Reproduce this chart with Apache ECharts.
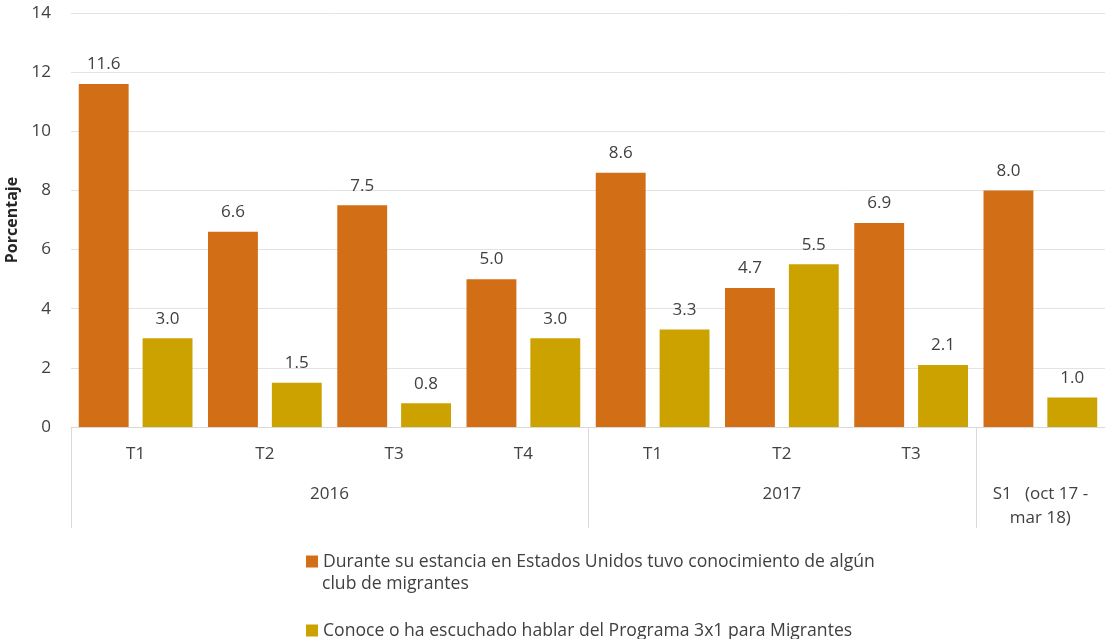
<!DOCTYPE html>
<html>
<head>
<meta charset="utf-8">
<script src="https://cdn.jsdelivr.net/npm/echarts@6/dist/echarts.min.js"></script>
<style>
  html, body { margin: 0; padding: 0; background: #fff; }
  #chart { width: 1105px; height: 639px; }
</style>
</head>
<body>
<div id="chart"></div>
<script>
// periodos (nivel 1) y grupos (nivel 2)
var periodos = ["T1", "T2", "T3", "T4", "T1", "T2", "T3", ""];
var grupos = [
  { name: "2016", from: 0, to: 4 },
  { name: "2017", from: 4, to: 7 },
  { name: "S1   (oct 17 -\nmar 18)", from: 7, to: 8 }
];
var serieClub = [11.6, 6.6, 7.5, 5.0, 8.6, 4.7, 6.9, 8.0];
var serie3x1 = [3.0, 1.5, 0.8, 3.0, 3.3, 5.5, 2.1, 1.0];
var nombreClub = "Durante su estancia en Estados Unidos tuvo conocimiento de algún\nclub de migrantes";
var nombre3x1 = "Conoce o ha escuchado hablar del Programa 3x1 para Migrantes";
var yTicks = [0, 2, 4, 6, 8, 10, 12, 14];

// eje de grupos: medias posiciones, 0..16
var mitades = [];
for (var i = 0; i <= periodos.length * 2; i++) mitades.push(i);
var etiquetaGrupo = {};
var limites = {};
grupos.forEach(function (g) {
  etiquetaGrupo[g.from + g.to] = g.name;
  limites[g.from * 2] = true;
  limites[g.to * 2] = true;
});

var fuente = "Open Sans";
var texto = "#404040";
var lineasClub = nombreClub.split("\n");

var leyendaBase = {
  orient: "vertical",
  left: 306,
  padding: 0,
  itemWidth: 12,
  itemHeight: 12,
  itemGap: 4,
  icon: "rect",
  textStyle: { fontFamily: fuente, fontSize: 17.6, color: texto, lineHeight: 23 }
};
var etiquetaBarra = {
  show: true,
  position: "top",
  distance: 11,
  color: texto,
  fontSize: 17,
  formatter: function (p) { return p.value.toFixed(1); }
};

var chart = echarts.init(document.getElementById("chart"));
var option = {
  textStyle: { fontFamily: fuente },
  grid: { left: 71, right: 0, top: 13, bottom: 212, outerBoundsMode: "none" },
  legend: [
    Object.assign({}, leyendaBase, {
      top: 550,
      data: [nombreClub],
      // el icono va con la primera linea; la segunda se pone aparte
      formatter: function () { return lineasClub[0]; }
    }),
    Object.assign({}, leyendaBase, { top: 619, data: [nombre3x1] })
  ],
  graphic: [
    {
      type: "text",
      left: 322,
      top: 575,
      style: {
        text: lineasClub[1],
        fontFamily: fuente,
        fontSize: 17.6,
        fill: texto
      }
    }
  ],
  xAxis: [
    {
      type: "category",
      data: periodos,
      axisLine: { lineStyle: { color: "#d9d9d9" } },
      axisTick: { show: false },
      axisLabel: { color: texto, fontSize: 17, margin: 19 }
    },
    {
      type: "category",
      position: "bottom",
      boundaryGap: false,
      data: mitades,
      axisLine: { show: false },
      axisTick: {
        show: true,
        length: 101,
        interval: function (idx) { return !!limites[idx]; },
        lineStyle: { color: "#d9d9d9" }
      },
      axisLabel: {
        interval: 0,
        margin: 55,
        color: texto,
        fontSize: 17,
        lineHeight: 24,
        verticalAlign: "top",
        formatter: function (v) { return etiquetaGrupo[v] || ""; }
      }
    }
  ],
  yAxis: {
    type: "value",
    min: yTicks[0],
    max: yTicks[yTicks.length - 1],
    interval: 2,
    name: "Porcentaje",
    nameLocation: "middle",
    nameGap: 44,
    nameTextStyle: { fontWeight: "bold", fontSize: 16, color: "#262626" },
    axisLine: { show: false },
    axisTick: { show: false },
    axisLabel: { color: texto, fontSize: 17, margin: 20 },
    splitLine: { lineStyle: { color: "#e3e3e3" } }
  },
  series: [
    {
      name: nombreClub,
      type: "bar",
      data: serieClub,
      barGap: "28%",
      barCategoryGap: "12%",
      itemStyle: { color: "#D26F16" },
      label: etiquetaBarra
    },
    {
      name: nombre3x1,
      type: "bar",
      data: serie3x1,
      barGap: "28%",
      barCategoryGap: "12%",
      itemStyle: { color: "#CCA200" },
      label: etiquetaBarra
    }
  ]
};
chart.setOption(option);
</script>
</body>
</html>
